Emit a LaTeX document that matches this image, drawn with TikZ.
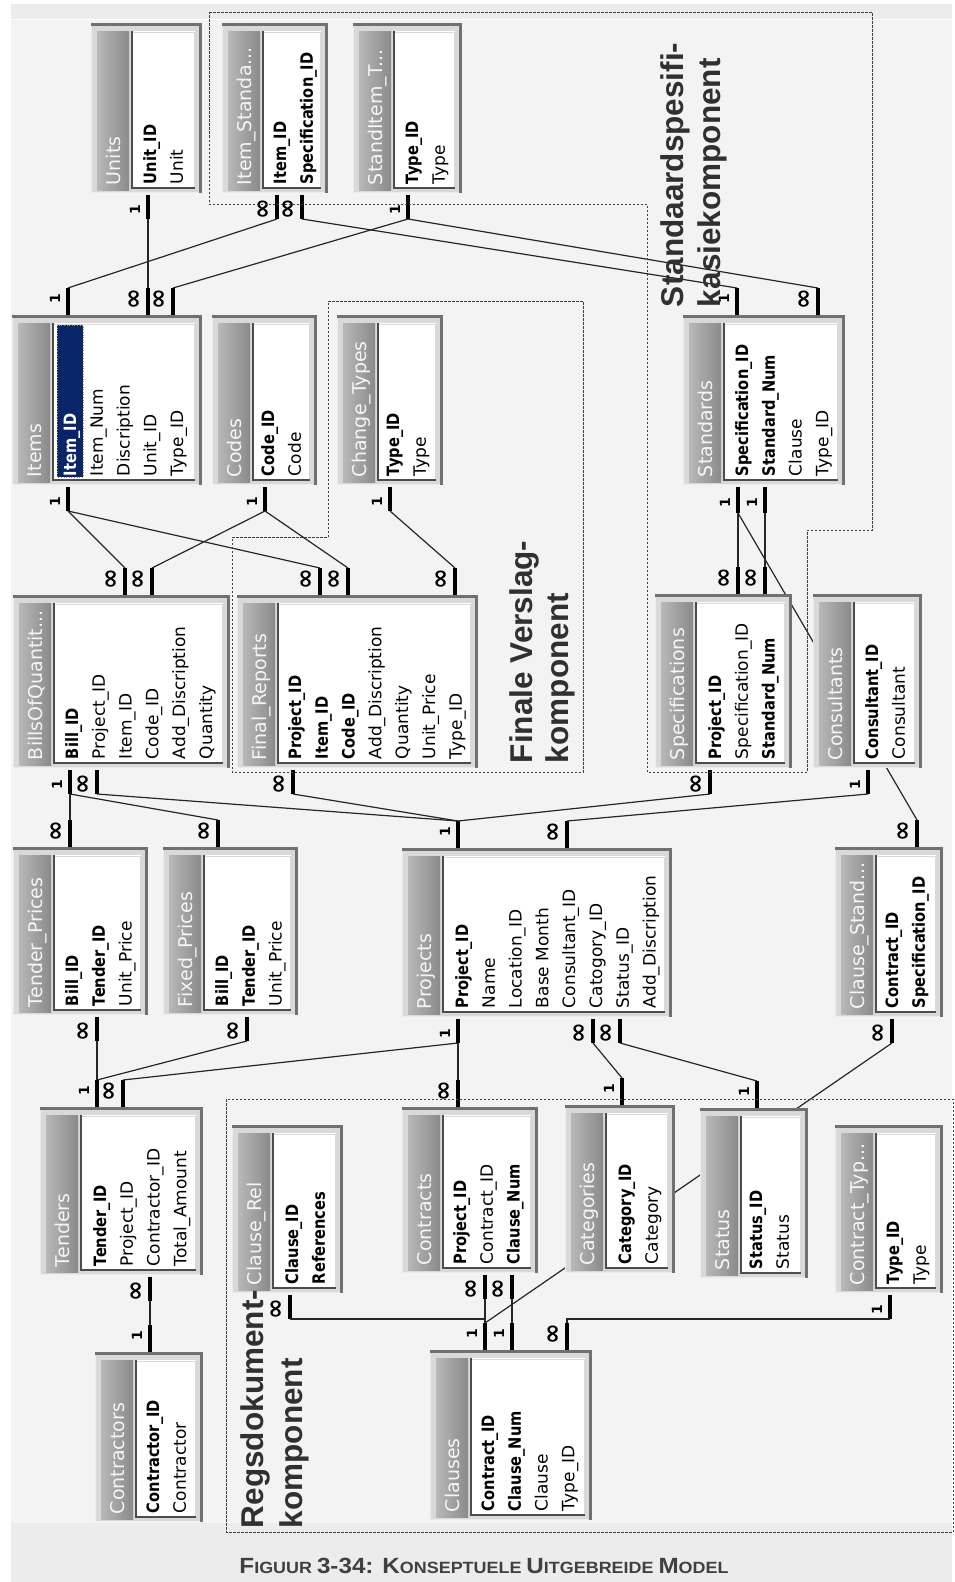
\documentclass[tikz,border=0pt]{standalone}
\usepackage{fontspec}
\setmainfont{DejaVu Sans}
\newfontfamily\keyfont{DejaVu Sans}[FakeStretch=0.86]
\newfontfamily\regfont{DejaVu Sans}
\newfontfamily\labelfont{Liberation Sans}
\newfontfamily\capfont{Liberation Sans}[FakeStretch=1.1]

\definecolor{bgmain}{HTML}{F3F3F3}
\definecolor{bgband}{HTML}{ECECEC}
\definecolor{framegray}{HTML}{D9D9D9}
\definecolor{edgedark}{HTML}{707070}
\definecolor{titlelight}{HTML}{B8B8B8}
\definecolor{titledark}{HTML}{8A8A8A}
\definecolor{selblue}{HTML}{0A246A}
\definecolor{inkgray}{HTML}{303030}

\newcommand\cardone{{\fontsize{14}{14}\selectfont 1}}
\newcommand\cardmany{{\fontsize{25}{25}\selectfont ∞}}
\newcommand\capbig{\fontsize{22}{22}\selectfont}
\newcommand\capsm{\fontsize{16.3}{16}\selectfont}

\tikzset{
  tblnode/.style={fill=framegray, draw=none, inner sep=0pt, outer sep=0pt},
  fieldr/.style={rotate=90, anchor=base west, inner sep=0pt, outer sep=0pt,
    font=\regfont\fontsize{17}{17}\selectfont, text=black},
  fieldk/.style={fieldr, font=\keyfont\bfseries\fontsize{17}{17}\selectfont},
  fields/.style={fieldk, text=white},
  titletxt/.style={rotate=90, anchor=base west, inner sep=0pt, outer sep=0pt,
    font=\fontsize{19}{19}\selectfont, text=white!92!gray},
  stubline/.style={line width=3.6pt, black},
  relline/.style={line width=1.2pt, black!85},
  cardlbl/.style={rotate=90, inner sep=0pt, outer sep=0pt, font=\bfseries},
  regionline/.style={draw=black!75, line width=0.8pt, dash pattern=on 2.5pt off 1.5pt},
  biglbl/.style={rotate=90, anchor=base west, inner sep=0pt, outer sep=0pt,
    font=\labelfont\bfseries\fontsize{31.5}{31.5}\selectfont, text=inkgray},
}

% table frame: name, x0, y0, x1, y1, title
\newcommand\dbtable[6]{%
  \node[tblnode, minimum width={#4-#2}, minimum height={#5-#3}] (#1) at ({(#2+#4)/2},{(#3+#5)/2}) {};
  \draw[line width=1pt, white!85!gray] ({#2+0.5},{#3+2}) -- ({#2+0.5},{#5-0.5}) -- ({#4-2},{#5-0.5});
  \draw[line width=2.6pt, edgedark] ({#2},{#3+1.3}) -- ({#4-1.3},{#3+1.3}) -- ({#4-1.3},{#5});
  \shade[left color=titlelight, right color=titledark] ({#2+6},{#3+8}) rectangle ({#2+38},{#5-3});
  \fill[white] ({#2+41},{#3+8}) rectangle ({#4-7},{#5-5});
  \draw[line width=1.3pt, black!70] ({#2+41},{#3+8}) -- ({#2+41},{#5-5}) -- ({#4-7},{#5-5});
  \draw[line width=1pt, black!15] ({#2+42},{#3+9}) -- ({#4-8},{#3+9}) -- ({#4-8},{#5-6});
  \node[titletxt] (#1-title) at ({#2+29},{#5-8}) {#6};
}
% field rows: name, centre of first row, bottom y of table, list of style/text
\newcommand\dbfields[4]{%
  \foreach[count=\i] \kind/\txt in {#4}{
    \node[\kind] (#1-f\i) at ({#2+(\i-1)*26.8+6},{#3-9}) {\txt};
  }
}
% relation stub: name, x, y at table edge, y at free end, cardinality
\newcommand\stub[5]{%
  \coordinate (#1-e) at (#2,#3);
  \coordinate (#1) at (#2,#4);
  \draw[stubline] (#1-e) -- (#1);
  \node[cardlbl] (#1-l) at ({#2-13},{#4+0.4*(#3-#4)}) {#5};
}

\begin{document}
\begin{tikzpicture}[x=1pt,y=-1pt]
\useasboundingbox (0,0) rectangle (955,1582);

% window background
\fill[white] (0,0) rectangle (955,1582);
\fill[bgband] (11,4) rectangle (952,1582);
\fill[bgmain] (11,20) rectangle (952,1523);
\draw[white, line width=1.5pt] (11,19.5) -- (952,19.5);

% relation stubs
\stub{units-b1}{148}{195}{219}{\cardone}
\stub{istd-b1}{277}{195}{219}{\cardmany}
\stub{istd-b2}{302}{195}{219}{\cardmany}
\stub{sit-b1}{408}{195}{219}{\cardone}
\stub{items-t1}{68}{315}{288}{\cardone}
\stub{items-t2}{148}{315}{288}{\cardmany}
\stub{items-t3}{173}{315}{288}{\cardmany}
\stub{std-t1}{737}{315}{288}{\cardone}
\stub{std-t2}{818}{315}{288}{\cardmany}
\stub{items-b1}{68}{487}{511}{\cardone}
\stub{codes-b1}{265}{487}{511}{\cardone}
\stub{chg-b1}{390}{487}{511}{\cardone}
\stub{std-b1}{738}{487}{513}{\cardone}
\stub{std-b2}{765}{487}{513}{\cardone}
\stub{boq-t1}{125}{595}{568}{\cardmany}
\stub{boq-t2}{152}{595}{568}{\cardmany}
\stub{fr-t1}{320}{595}{568}{\cardmany}
\stub{fr-t2}{348}{595}{568}{\cardmany}
\stub{fr-t3}{455}{595}{568}{\cardmany}
\stub{spec-t1}{738}{594}{567}{\cardmany}
\stub{spec-t2}{765}{594}{567}{\cardmany}
\stub{boq-b1}{70}{770}{794}{\cardone}
\stub{boq-b2}{97}{770}{794}{\cardmany}
\stub{fr-b1}{293}{770}{794}{\cardmany}
\stub{spec-b1}{710}{770}{794}{\cardmany}
\stub{cons-b1}{868}{770}{794}{\cardone}
\stub{tp-t1}{70}{847}{820}{\cardmany}
\stub{fp-t1}{218}{847}{820}{\cardmany}
\stub{prj-t1}{458}{848}{821}{\cardone}
\stub{prj-t2}{567}{848}{821}{\cardmany}
\stub{cs-t1}{917}{847}{820}{\cardmany}
\stub{tp-b1}{97}{1017}{1041}{\cardmany}
\stub{fp-b1}{247}{1017}{1041}{\cardmany}
\stub{prj-b1}{458}{1019}{1043}{\cardone}
\stub{prj-b2}{593}{1019}{1043}{\cardmany}
\stub{prj-b3}{620}{1019}{1043}{\cardmany}
\stub{cs-b1}{892}{1019}{1043}{\cardmany}
\stub{ten-t1}{97}{1107}{1080}{\cardone}
\stub{ten-t2}{123}{1107}{1080}{\cardmany}
\stub{con-t1}{458}{1107}{1080}{\cardmany}
\stub{cat-t1}{622}{1105}{1078}{\cardone}
\stub{sts-t1}{757}{1108}{1081}{\cardone}
\stub{ten-b1}{150}{1277}{1301}{\cardmany}
\stub{con-b1}{485}{1275}{1299}{\cardmany}
\stub{con-b2}{512}{1275}{1299}{\cardmany}
\stub{cr-b1}{290}{1295}{1319}{\cardmany}
\stub{ct-b1}{890}{1295}{1319}{\cardone}
\stub{ctr-t1}{150}{1352}{1325}{\cardone}
\stub{cl-t1}{485}{1350}{1323}{\cardone}
\stub{cl-t2}{512}{1350}{1323}{\cardone}
\stub{cl-t3}{567}{1350}{1323}{\cardmany}

% relationship lines
\begin{scope}[relline]
\draw (units-b1) -- (items-t2);
\draw (istd-b1) -- (items-t1);
\draw (istd-b2) -- (std-t1);
\draw (sit-b1) -- (items-t3);
\draw (sit-b1) -- (std-t2);
\draw (items-b1) -- (boq-t1);
\draw (items-b1) -- (fr-t1);
\draw (codes-b1) -- (boq-t2);
\draw (codes-b1) -- (fr-t2);
\draw (chg-b1) -- (fr-t3);
\draw (std-b1) -- (spec-t1);
\draw (std-b2) -- (spec-t2);
\draw (std-b1) -- (cs-t1);
\draw (boq-b1) -- (tp-t1);
\draw (boq-b1) -- (fp-t1);
\draw (boq-b2) -- (prj-t1);
\draw (fr-b1) -- (prj-t1);
\draw (spec-b1) -- (prj-t1);
\draw (cons-b1) -- (prj-t2);
\draw (tp-b1) -- (ten-t1);
\draw (fp-b1) -- (ten-t1);
\draw (prj-b1) -- (ten-t2);
\draw (prj-b1) -- (con-t1);
\draw (prj-b2) -- (cat-t1);
\draw (prj-b3) -- (sts-t1);
\draw (cs-b1) -- (cl-t1);
\draw (con-b1) -- (cl-t1);
\draw (con-b2) -- (cl-t2);
\draw (cr-b1) -- (cr-b1 -| cl-t1);
\draw (ct-b1) -| (cl-t3);
\draw (ten-b1) -- (ctr-t1);
\end{scope}

% tables
\dbtable{units}{91}{23}{202}{193}{Units}
\dbfields{units}{150}{193}{fieldk/Unit\_ID, fieldr/Unit}
\dbtable{istd}{222}{23}{328}{193}{Item\_Standa...}
\dbfields{istd}{280}{193}{fieldk/Item\_ID, fieldk/Specification\_ID}
\dbtable{sit}{353}{23}{462}{193}{StandItem\_T...}
\dbfields{sit}{412}{193}{fieldk/Type\_ID, fieldr/Type}

\dbtable{items}{12}{315}{202}{485}{Items}
\fill[selblue] (57,325) rectangle (83,477);
\draw[yellow!60!black, line width=0.6pt, dotted] (57,325) rectangle (83,477);
\dbfields{items}{70}{485}{fields/Item\_ID, fieldr/Item\_Num, fieldr/Discription, fieldr/Unit\_ID, fieldr/Type\_ID}
\dbtable{codes}{212}{315}{317}{485}{Codes}
\dbfields{codes}{268}{485}{fieldk/Code\_ID, fieldr/Code}
\dbtable{chg}{337}{315}{443}{485}{Change\_Types}
\dbfields{chg}{393}{485}{fieldk/Type\_ID, fieldr/Type}
\dbtable{std}{683}{315}{845}{485}{Standards}
\dbfields{std}{742}{485}{fieldk/Specification\_ID, fieldk/Standard\_Num, fieldr/Clause, fieldr/Type\_ID}

\dbtable{boq}{13}{595}{230}{768}{BillsOfQuantit...}
\dbfields{boq}{72}{768}{fieldk/Bill\_ID, fieldr/Project\_ID, fieldr/Item\_ID, fieldr/Code\_ID, fieldr/Add\_Discription, fieldr/Quantity}
\dbtable{fr}{237}{595}{478}{768}{Final\_Reports}
\dbfields{fr}{295}{768}{fieldk/Project\_ID, fieldk/Item\_ID, fieldk/Code\_ID, fieldr/Add\_Discription, fieldr/Quantity, fieldr/Unit\_Price, fieldr/Type\_ID}
\dbtable{spec}{655}{594}{792}{768}{Specifications}
\dbfields{spec}{715}{768}{fieldk/Project\_ID, fieldr/Specification\_ID, fieldk/Standard\_Num}
\dbtable{cons}{813}{594}{922}{768}{Consultants}
\dbfields{cons}{872}{768}{fieldk/Consultant\_ID, fieldr/Consultant}

\dbtable{tp}{13}{847}{148}{1015}{Tender\_Prices}
\dbfields{tp}{72}{1015}{fieldk/Bill\_ID, fieldk/Tender\_ID, fieldr/Unit\_Price}
\dbtable{fp}{163}{847}{298}{1015}{Fixed\_Prices}
\dbfields{fp}{222}{1015}{fieldk/Bill\_ID, fieldk/Tender\_ID, fieldr/Unit\_Price}
\dbtable{prj}{402}{848}{672}{1017}{Projects}
\dbfields{prj}{462}{1017}{fieldk/Project\_ID, fieldr/Name, fieldr/Location\_ID, fieldr/Base Month, fieldr/Consultant\_ID, fieldr/Catogory\_ID, fieldr/Status\_ID, fieldr/Add\_Discription}
\dbtable{cs}{835}{847}{943}{1017}{Clause\_Stand...}
\dbfields{cs}{892}{1017}{fieldk/Contract\_ID, fieldk/Specification\_ID}

\dbtable{ten}{40}{1107}{203}{1275}{Tenders}
\dbfields{ten}{100}{1275}{fieldk/Tender\_ID, fieldr/Project\_ID, fieldr/Contractor\_ID, fieldr/Total\_Amount}
\dbtable{cr}{232}{1125}{343}{1293}{Clause\_Rel}
\dbfields{cr}{292}{1293}{fieldk/Clause\_ID, fieldk/References}
\dbtable{con}{402}{1107}{538}{1273}{Contracts}
\dbfields{con}{460}{1273}{fieldk/Project\_ID, fieldr/Contract\_ID, fieldk/Clause\_Num}
\dbtable{cat}{565}{1105}{675}{1273}{Categories}
\dbfields{cat}{625}{1273}{fieldk/Category\_ID, fieldr/Category}
\dbtable{sts}{700}{1108}{808}{1278}{Status}
\dbfields{sts}{756}{1278}{fieldk/Status\_ID, fieldr/Status}
\dbtable{ct}{835}{1125}{943}{1293}{Contract\_Typ...}
\dbfields{ct}{893}{1293}{fieldk/Type\_ID, fieldr/Type}
\dbtable{ctr}{95}{1352}{203}{1522}{Contractors}
\dbfields{ctr}{153}{1522}{fieldk/Contractor\_ID, fieldr/Contractor}
\dbtable{cl}{430}{1350}{592}{1520}{Clauses}
\dbfields{cl}{488}{1520}{fieldk/Contract\_ID, fieldk/Clause\_Num, fieldr/Clause, fieldr/Type\_ID}

% component outlines
\draw[regionline] (209,12) -- (872,12) -- (872,530) -- (807,530) -- (807,772) -- (647,772) -- (647,204) -- (209,204) -- cycle;
\draw[regionline] (328,301) -- (583,301) -- (583,772) -- (232,772) -- (232,537) -- (328,537) -- cycle;
\draw[regionline] (226,1099) rectangle (953,1532);

% component names
\node[biglbl] (lbl-std1) at (683,307) {Standaardspesifi-};
\node[biglbl] (lbl-std2) at (720,307) {kasiekomponent};
\node[biglbl] (lbl-fin1) at (532,763) {Finale Verslag-};
\node[biglbl] (lbl-fin2) at (568,763) {komponent};
\node[biglbl] (lbl-reg1) at (263,1528) {Regsdokument-};
\node[biglbl] (lbl-reg2) at (302,1528) {komponent};

% caption
\node[anchor=base, inner sep=0pt, text=black!75, font=\capfont\bfseries] (caption) at (484,1573)
  {\capbig F\capsm IGUUR \capbig 3-34: K\capsm ONSEPTUELE \capbig U\capsm ITGEBREIDE \capbig M\capsm ODEL};
\end{tikzpicture}
\end{document}
